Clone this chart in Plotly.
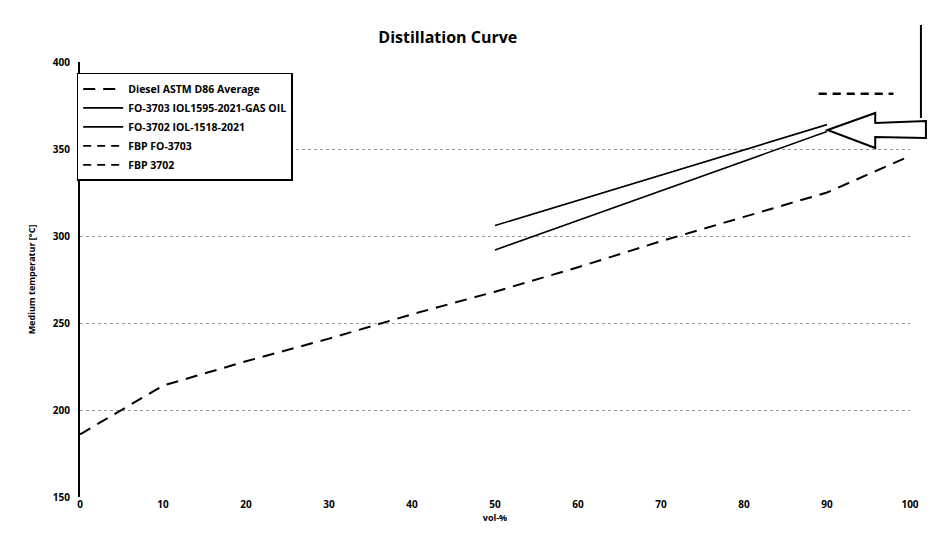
import plotly.graph_objects as go

# ---- data ----
vol_diesel = [0, 10, 20, 30, 40, 50, 60, 70, 80, 90, 100]
temp_diesel = [186, 214, 228, 241, 255, 268, 282, 297, 311, 325, 346]

vol_fo3703 = [50, 90]
temp_fo3703 = [306, 364]

vol_fo3702 = [50, 90]
temp_fo3702 = [292, 360]

vol_fbp3703 = [89, 98]
temp_fbp3703 = [382, 382]

vol_fbp3702 = [89, 98]
temp_fbp3702 = [381.5, 381.5]

x_ticks = [0, 10, 20, 30, 40, 50, 60, 70, 80, 90, 100]
y_ticks = [150, 200, 250, 300, 350, 400]

names = [
    "Diesel ASTM D86 Average",
    "FO-3703 IOL1595-2021-GAS OIL",
    "FO-3702 IOL-1518-2021",
    "FBP FO-3703",
    "FBP 3702",
]

fig = go.Figure()
fig.add_trace(go.Scatter(x=vol_diesel, y=temp_diesel, mode="lines", name=names[0],
                         line=dict(color="black", width=2, dash="12px,8px")))
fig.add_trace(go.Scatter(x=vol_fo3703, y=temp_fo3703, mode="lines", name=names[1],
                         line=dict(color="black", width=1.6)))
fig.add_trace(go.Scatter(x=vol_fo3702, y=temp_fo3702, mode="lines", name=names[2],
                         line=dict(color="black", width=1.6)))
fig.add_trace(go.Scatter(x=vol_fbp3703, y=temp_fbp3703, mode="lines", name=names[3],
                         line=dict(color="black", width=1.8, dash="8px,6px")))
fig.add_trace(go.Scatter(x=vol_fbp3702, y=temp_fbp3702, mode="lines", name=names[4],
                         line=dict(color="black", width=1.8, dash="8px,6px")))

# outline arrow pointing left (paper coordinates)
def px2paper(px, py):
    return (px - 80) / 835.0, (497 - py) / 435.0

pts = [(832, 130), (880, 113), (880, 123), (931, 121), (931, 138), (880, 137), (880, 148)]
path = "M " + " L ".join(f"{px2paper(a, b)[0]:.4f},{px2paper(a, b)[1]:.4f}" for a, b in pts) + " Z"
fig.add_shape(type="path", path=path, xref="paper", yref="paper",
              line=dict(color="black", width=2), fillcolor="white")
x0, y0 = px2paper(926, 25)
x1, y1 = px2paper(926, 118)
fig.add_shape(type="line", xref="paper", yref="paper", x0=x0, y0=y0, x1=x1, y1=y1,
              line=dict(color="black", width=2))

fig.update_layout(
    width=931, height=539,
    paper_bgcolor="white", plot_bgcolor="white",
    margin=dict(l=80, r=16, t=62, b=42),
    font=dict(family="Open Sans", size=9, color="black"),
    title=dict(text="<b>Distillation Curve</b>", x=0.481, xanchor="center", y=0.93, yanchor="middle",
               font=dict(family="Open Sans", size=16, color="black")),
    showlegend=True,
    legend=dict(x=-0.004, y=0.975, xanchor="left", yanchor="top",
                bgcolor="white", bordercolor="black", borderwidth=1.5,
                font=dict(family="Open Sans", size=10.5, color="black", weight="bold"),
                tracegroupgap=0, itemwidth=40),
    xaxis=dict(range=[0, 100], tickvals=x_ticks, ticktext=[str(v) for v in x_ticks],
               showgrid=False, zeroline=False, showline=False, ticks="",
               title=dict(text="vol-%", font=dict(size=9, weight="bold"), standoff=4),
               tickfont=dict(size=10, weight="bold")),
    yaxis=dict(range=[150, 400], tickvals=y_ticks, ticktext=[str(v) for v in y_ticks],
               showgrid=True, gridcolor="#9a9a9a", griddash="dot", gridwidth=1,
               zeroline=False, showline=True, linecolor="black", linewidth=2, ticks="",
               ticklabelstandoff=6,
               title=dict(text="Medium temperatur [°C]", font=dict(size=9, weight="bold"), standoff=16),
               tickfont=dict(size=10, weight="bold")),
)

fig.write_html("out.html", config={"displayModeBar": False},
               post_script="document.body.style.margin='0px';document.body.style.overflow='hidden';")
